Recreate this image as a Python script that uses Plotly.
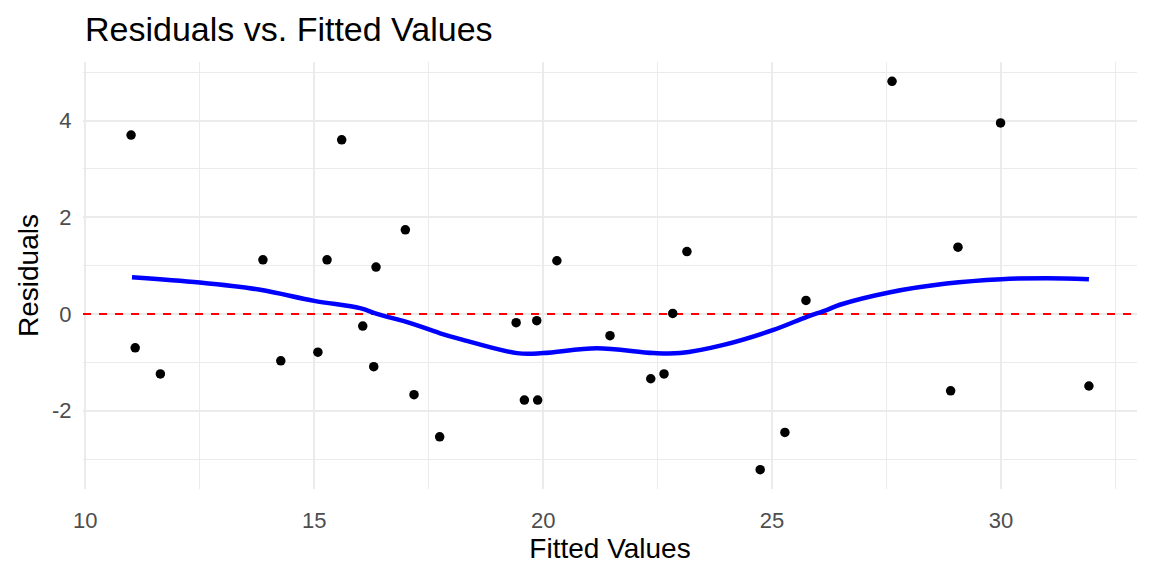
import plotly.graph_objects as go

# fitted values and residuals
fitted = [11.00, 15.60, 16.99, 13.88, 15.28, 16.35, 16.06, 11.09, 11.64, 14.27,
          15.08, 16.30, 17.18, 17.74, 20.30, 23.14, 19.41, 19.86, 22.83, 21.46,
          25.74, 19.59, 19.88, 22.35, 22.64, 25.28, 24.74, 27.62, 29.99, 29.06,
          28.90, 31.92]
residuals = [3.70, 3.60, 1.74, 1.12, 1.12, 0.97, -0.25, -0.70, -1.24, -0.97,
             -0.79, -1.09, -1.67, -2.54, 1.10, 1.29, -0.18, -0.14, 0.01, -0.45,
             0.28, -1.78, -1.78, -1.34, -1.24, -2.45, -3.22, 4.81, 3.95, 1.38,
             -1.59, -1.49]

# smoother (loess)
smooth_x = [11.02, 12.5, 13.82, 15.0, 16.0, 16.37, 17.10, 17.75, 18.19, 19.43,
            20.0, 21.17, 22.41, 22.99, 23.94, 25.03, 25.76, 26.19, 26.48,
            27.58, 28.81, 30.01, 31.0, 31.92]
smooth_y = [0.76, 0.65, 0.50, 0.27, 0.12, 0.00, -0.19, -0.40, -0.52, -0.81,
            -0.81, -0.71, -0.81, -0.81, -0.64, -0.33, -0.06, 0.08, 0.19,
            0.45, 0.63, 0.72, 0.74, 0.72]

x_ticks = [10, 15, 20, 25, 30]
y_ticks = [-2, 0, 2, 4]
y_tick_labels = ["-2", "0", "2", "4"]
x_range = [9.95, 32.97]
y_range = [-3.62, 5.21]

font = "Liberation Sans, Arial, sans-serif"

# the page body adds an 8px margin, so the figure is 8px smaller than the window
W, H = 1144, 568

fig = go.Figure()

# zero reference line
fig.add_trace(go.Scatter(
    x=x_range, y=[0, 0],
    mode="lines",
    line=dict(color="#FF0000", width=2, dash="8px,8px"),
    hoverinfo="skip"
))

fig.add_trace(go.Scatter(
    x=fitted, y=residuals,
    mode="markers",
    marker=dict(color="black", size=9.5)
))

fig.add_trace(go.Scatter(
    x=smooth_x, y=smooth_y,
    mode="lines",
    line=dict(color="#0000FF", width=4.5, shape="spline")
))

grid = "#EBEBEB"
fig.update_layout(
    width=W,
    height=H,
    autosize=False,
    showlegend=False,
    paper_bgcolor="white",
    plot_bgcolor="white",
    margin=dict(l=75, r=15, t=54, b=87),
    font=dict(family=font, color="black"),
    title=dict(
        text="Residuals vs. Fitted Values",
        font=dict(size=34, color="black"),
        xref="container", yref="container",
        x=77 / W, xanchor="left",
        y=1 - 21 / H, yanchor="middle"
    ),
    xaxis=dict(
        range=x_range,
        tickvals=x_ticks,
        showgrid=True, gridcolor=grid, gridwidth=2,
        minor=dict(dtick=2.5, tick0=0, showgrid=True, gridcolor=grid, gridwidth=1),
        zeroline=False, showline=False,
        ticks="outside", ticklen=12, tickcolor="rgba(0,0,0,0)",
        tickfont=dict(size=22, color="#4D4D4D"),
        automargin=False,
        title=dict(text="Fitted Values", font=dict(size=28, color="black"), standoff=3)
    ),
    yaxis=dict(
        range=y_range,
        tickvals=y_ticks,
        ticktext=y_tick_labels,
        showgrid=True, gridcolor=grid, gridwidth=2,
        minor=dict(dtick=1, tick0=1, showgrid=True, gridcolor=grid, gridwidth=1),
        zeroline=False, showline=False,
        ticks="outside", ticklen=6, tickcolor="rgba(0,0,0,0)",
        tickfont=dict(size=22, color="#4D4D4D"),
        automargin=False,
        title=dict(text="Residuals", font=dict(size=28, color="black"), standoff=5)
    )
)

fig.write_html("out.html")
